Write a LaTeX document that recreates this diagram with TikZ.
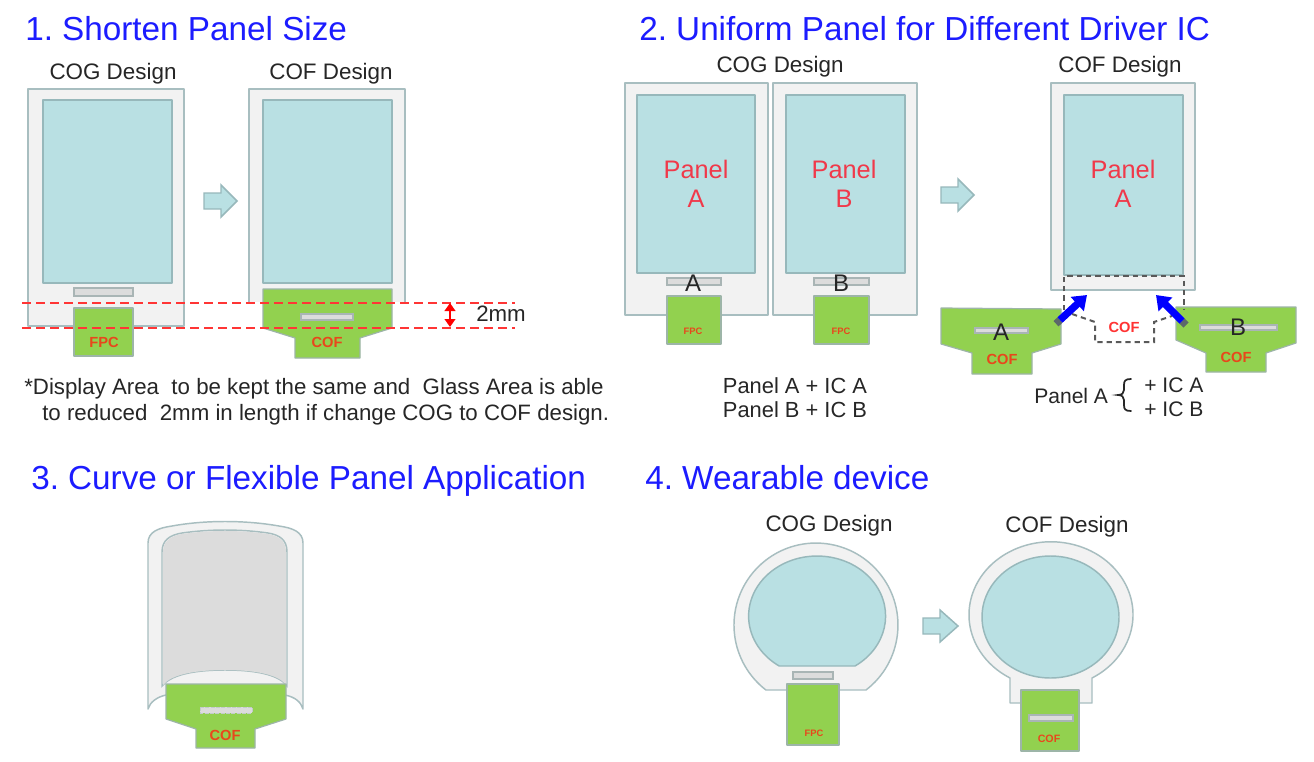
\documentclass[tikz,border=0pt]{standalone}
\usepackage{fontspec}
\setmainfont{Liberation Sans}
\usetikzlibrary{arrows.meta}
\definecolor{glassfill}{HTML}{F2F2F2}
\definecolor{glassline}{HTML}{A8BEC0}
\definecolor{dispfill}{HTML}{B9E0E3}
\definecolor{displine}{HTML}{97B8BB}
\definecolor{cofgreen}{HTML}{92D14F}
\definecolor{cofline}{HTML}{9DB5A8}
\definecolor{icfill}{HTML}{DCDCDC}
\definecolor{icline}{HTML}{A9B5B5}
\definecolor{titleblue}{HTML}{1C1CFF}
\definecolor{cofred}{HTML}{E8471C}
\definecolor{panelred}{HTML}{F0394A}
\definecolor{inkgray}{HTML}{262626}
\definecolor{dashred}{HTML}{FF3535}
\tikzset{
  x=0.75pt,y=-0.75pt,
  glass/.style={fill=glassfill,draw=glassline,line width=1.1pt,line join=round},
  disp/.style={fill=dispfill,draw=displine,line width=1.1pt,line join=round},
  cof/.style={fill=cofgreen,draw=cofline,line width=0.9pt,line join=round},
  icbar/.style={fill=icfill,draw=icline,line width=0.8pt},
  title/.style={anchor=base west,inner sep=0pt,text=titleblue,font=\fontsize{24.95}{28}\selectfont},
  caption/.style={anchor=base,inner sep=0pt,text=inkgray,font=\fontsize{16.8}{19}\selectfont},
  body/.style={anchor=base west,inner sep=0pt,text=inkgray,font=\fontsize{15.8}{19}\selectfont},
  note/.style={anchor=base west,inner sep=0pt,text=inkgray,font=\fontsize{16.7}{19}\selectfont},
  bodymid/.style={anchor=base,inner sep=0pt,text=inkgray,font=\fontsize{16.4}{19}\selectfont},
  paneltext/.style={align=center,inner sep=0pt,text=panelred,font=\fontsize{19}{21.5}\selectfont},
  coftext/.style={inner sep=0pt,text=cofred,font=\bfseries\fontsize{11}{13}\selectfont},
  fpctext/.style={inner sep=0pt,text=cofred,font=\bfseries\fontsize{7}{9}\selectfont},
  bigletter/.style={inner sep=0pt,text=inkgray,font=\fontsize{18}{21}\selectfont},
  reddash/.style={draw=dashred,line width=1.2pt,dash pattern=on 7pt off 3.5pt},
  graydash/.style={draw=black!65,line width=1.5pt,dash pattern=on 4pt off 3pt},
  bluearrow/.style={draw=blue,line width=5.5pt,-{Triangle[length=10pt,width=14pt]}},
  stub/.style={draw=black!45!glassline,line width=5.5pt},
  blockarrow/.style={fill=dispfill,draw=displine,line width=1.1pt,line join=miter},
}
\newcommand{\blockarr}[5]{% x0 xhead x1 ytop ybot
  \path[blockarrow] (#1,{#4+(#5-#4)/4}) -- (#2,{#4+(#5-#4)/4}) -- (#2,#4) -- (#3,{(#4+#5)/2})
    -- (#2,#5) -- (#2,{#5-(#5-#4)/4}) -- (#1,{#5-(#5-#4)/4}) -- cycle;}
\begin{document}
\frenchspacing
\begin{tikzpicture}
\useasboundingbox[fill=white] (0,0) rectangle (1314,761);

% ---------- 1
\node[title] (t1) at (25,40) {1. Shorten Panel Size};
\node[caption] (c1a) at (113,79) {COG Design};
\node[caption] (c1b) at (331,79) {COF Design};
\path[glass] (28,89) rectangle (184,326);
\path[disp] (43,100) rectangle (172,283);
\path[icbar] (74,288) rectangle (133,296);
\path[cof] (74,308) rectangle (133,356);
\node[coftext] (fpc1) at (104,342) {FPC};
\path[glass] (249,302) -- (249,89) -- (405,89) -- (405,302);
\path[disp] (263,100) rectangle (392,283);
\path[cof] (263,289) -- (392,289) -- (392,328) -- (360,338) -- (360,358) -- (295,358) -- (295,338) -- (263,328) -- cycle;
\path[icbar] (301,314) rectangle (353,320);
\node[coftext] (cof1) at (327,342) {COF};
\blockarr{204}{221}{237}{185}{217}
\coordinate (r1a) at (22,303); \coordinate (r1b) at (515,303);
\coordinate (r2a) at (22,328); \coordinate (r2b) at (515,328);
\draw[reddash] (r1a) -- (r1b);
\draw[reddash] (r2a) -- (r2b);
\coordinate (m1) at (450,303); \coordinate (m2) at (450,327);
\draw[red,line width=1.5pt,{Triangle[length=6pt,width=8pt]}-{Triangle[length=6pt,width=8pt]}] (m1) -- (m2);
\node[note] (mm) at (476,321) {2mm};
\node[note] (note1) at (24,394) {*Display Area\ \ to be kept the same and\ \ Glass Area is able};
\node[note] (note2) at (42,420) {to reduced\ \ 2mm in length if change COG to COF design.};

% ---------- 2
\node[title] (t2) at (639,40) {2. Uniform Panel for Different Driver IC};
\node[caption] (c2a) at (780,72) {COG Design};
\node[caption] (c2b) at (1120,72) {COF Design};
\path[glass] (625,83) rectangle (768,315);
\path[disp] (637,95) rectangle (755,273);
\path[icbar] (667,278) rectangle (721,285);
\path[cof] (667,296) rectangle (721,344);
\node[fpctext] (fpc2) at (693,331) {FPC};
\node[bigletter] (la) at (693,283) {A};
\node[paneltext] (pa) at (696,184) {Panel\\A};
\path[glass] (773,83) rectangle (917,315);
\path[disp] (786,95) rectangle (905,273);
\path[icbar] (814,278) rectangle (869,285);
\path[cof] (814,296) rectangle (869,344);
\node[fpctext] (fpc3) at (841,331) {FPC};
\node[bigletter] (lb) at (841,283) {B};
\node[paneltext] (pb) at (844,184) {Panel\\B};
\blockarr{941}{958}{974}{179}{211}
\path[glass] (1051,83) rectangle (1195,290);
\path[disp] (1064,95) rectangle (1183,275);
\node[paneltext] (pc) at (1123,184) {Panel\\A};
\path[cof] (941,308) -- (1061,309) -- (1061,344) -- (1032,353) -- (1032,374) -- (972,374) -- (972,353) -- (941,344) -- cycle;
\path[icbar] (975,328) rectangle (1028,333);
\node[bigletter] (lc) at (1001,332) {A};
\node[coftext] (cofa) at (1002,359) {COF};
\path[cof] (1176,307) -- (1296,307) -- (1296,343) -- (1266,353) -- (1266,372) -- (1206,372) -- (1206,353) -- (1176,340) -- cycle;
\path[icbar] (1200,325) rectangle (1277,330);
\node[bigletter] (ld) at (1238,327) {B};
\node[coftext] (cofb) at (1236,357) {COF};
\draw[graydash] (1064,310) -- (1064,276) -- (1184,276) -- (1184,310);
\draw[graydash] (1072,314) -- (1095,322) -- (1095,342) -- (1154,342) -- (1154,322) -- (1172,316);
\node[coftext,text=red!80!white] (cofc) at (1124,327) {COF};
\coordinate (ba) at (1060,320); \coordinate (bb) at (1087,295);
\coordinate (bc) at (1182,321); \coordinate (bd) at (1156,295);
\coordinate (sa) at (1056,323.7); \coordinate (sc) at (1186,325);
\draw[stub] (sa) -- (ba);
\draw[stub] (sc) -- (bc);
\draw[bluearrow] (ba) -- (bb);
\draw[bluearrow] (bc) -- (bd);
\node[bodymid] (pl1) at (795,393) {Panel A + IC A};
\node[bodymid] (pl2) at (795,417) {Panel B + IC B};
\node[body] (pl3) at (1034,403) {Panel A};
\node[body] (ic1) at (1144,392) {+ IC A};
\node[body] (ic2) at (1144,416) {+ IC B};
\draw[inkgray,line width=1.3pt,line cap=round] (1131,379) .. controls (1125,379) and (1124,381) .. (1124,385)
  -- (1124,390) .. controls (1124,393) and (1122,395) .. (1118,395)
  .. controls (1122,395) and (1124,397) .. (1124,400) -- (1124,405) .. controls (1124,409) and (1125,411) .. (1131,411);

% ---------- 3
\node[title] (t3) at (31,489) {3. Curve or Flexible Panel Application};
\path[glass] (148,709) -- (148,543) .. controls (148,532) and (158,528) .. (172,526)
  .. controls (205,520) and (245,520) .. (279,526) .. controls (293,528) and (303,532) .. (303,543)
  -- (303,709) .. controls (301,702) and (295,697) .. (285,695) -- (166,695) .. controls (157,697) and (150,702) .. (148,709) -- cycle;
\path[fill=glassfill,draw=glassline,line width=1.1pt] (162,686) -- (162,552) .. controls (162,540) and (170,535) .. (182,533)
  .. controls (210,529) and (240,529) .. (268,533) .. controls (280,535) and (287,540) .. (287,552)
  -- (287,686) .. controls (280,676) and (260,670) .. (225,670) .. controls (190,670) and (170,676) .. (162,686) -- cycle;
\path[fill=icfill] (163,685) -- (163,552) .. controls (163,541) and (171,536) .. (182,534)
  .. controls (210,530) and (240,530) .. (268,534) .. controls (279,536) and (286,541) .. (286,552)
  -- (286,685) .. controls (280,676) and (260,670) .. (225,670) .. controls (190,670) and (170,676) .. (163,685) -- cycle;
\path[cof] (166,684) -- (286,684) -- (286,719) -- (255,729) -- (255,748) -- (196,748) -- (196,729) -- (166,719) -- cycle;
\path[fill=icfill,draw=icline!70!white,line width=0.5pt,dash pattern=on 3pt off 1pt] (200,707) rectangle (252,713);
\node[coftext] (cof3) at (225,735) {COF};

% ---------- 4
\node[title] (t4) at (645,489) {4. Wearable device};
\node[caption] (c4a) at (829,531) {COG Design};
\node[caption] (c4b) at (1067,532) {COF Design};
\path[glass] (866,690) arc[start angle=52.4,end angle=-232.4,radius=82] -- cycle;
\path[disp] (855,666) arc[start angle=56.4,end angle=-236.4,x radius=68.5,y radius=60] -- cycle;
\path[icbar] (793,672) rectangle (833,679);
\path[cof] (787,684) rectangle (839,745);
\node[fpctext] (fpc4) at (814,733) {FPC};
\blockarr{923}{940}{958}{610}{642}
\path[glass] (1092,678) arc[start angle=60,end angle=-240,x radius=82,y radius=73] -- (1010,703) -- (1092,703) -- cycle;
\path[disp] (1050.5,617) ellipse[x radius=68.5,y radius=61];
\path[cof] (1021,690) rectangle (1079,751);
\path[icbar] (1029,715) rectangle (1073,721);
\node[fpctext,font=\bfseries\fontsize{8}{9}\selectfont] (cof4) at (1049,739) {COF};
\end{tikzpicture}
\end{document}
